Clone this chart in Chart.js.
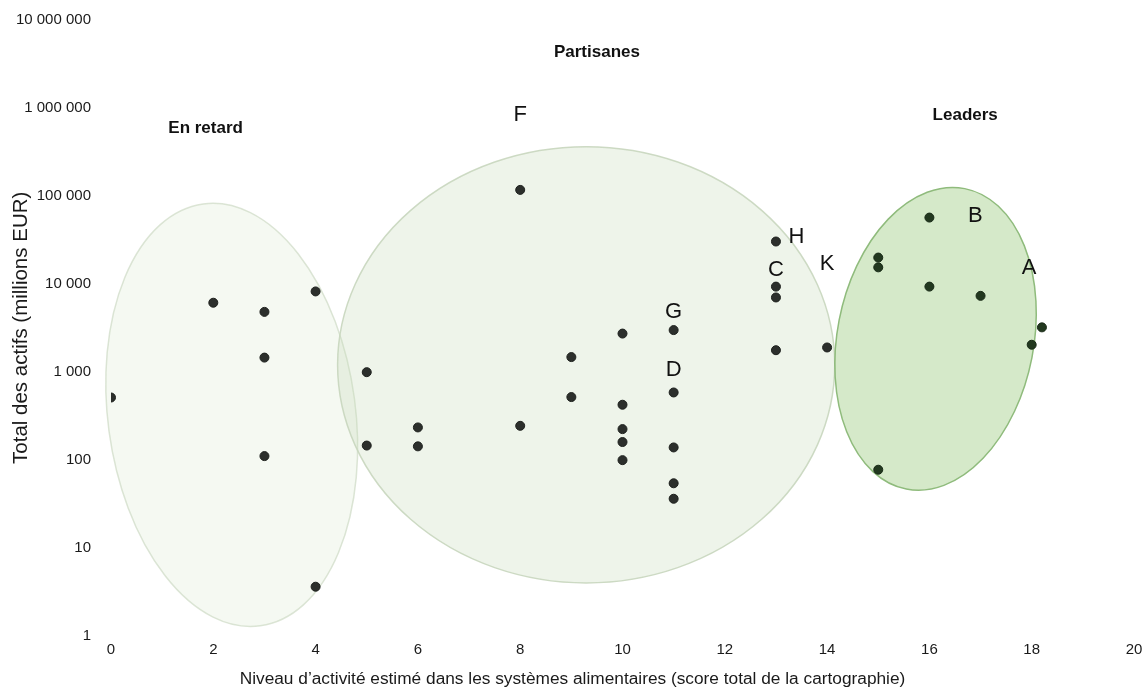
<!DOCTYPE html>
<html lang="fr">
<head>
<meta charset="utf-8">
<title>Actifs et activité dans les systèmes alimentaires</title>
<script src="https://cdn.jsdelivr.net/npm/chart.js@4.4.1/dist/chart.umd.min.js"></script>
<style>
    html, body { margin: 0; padding: 0; background: #fff; }
    #chartContainer { width: 1145px; height: 695px; }
</style>
</head>
<body>
<div id="chartContainer"><canvas id="myChart"></canvas></div>
<script>
// score de la cartographie (x) et total des actifs en millions EUR (y)
const retardScore = [0, 2, 3, 3, 3, 4, 4];
const retardActifs = [510, 6100, 4800, 1450, 110, 8200, 3.6];

const partisanesScore = [5, 5, 6, 6, 8, 8, 9, 9, 10, 10, 10, 10, 10, 11, 11, 11, 11, 11, 13, 13, 13, 13, 14];
const partisanesActifs = [990, 145, 233, 142, 117000, 243, 1470, 516, 2720, 422, 223, 159, 99, 2980, 582, 138, 54, 36, 30300, 9300, 7000, 1760, 1890];

const leadersScore = [15, 15, 15, 16, 16, 17, 18, 18.2];
const leadersActifs = [19900, 15400, 77, 56700, 9300, 7300, 2030, 3200];

const xTicks = [0, 2, 4, 6, 8, 10, 12, 14, 16, 18, 20];
const yTicks = [1, 10, 100, 1000, 10000, 100000, 1000000, 10000000];

// lettres posées à côté de certains points
const letterText = ['F', 'H', 'C', 'K', 'G', 'D', 'B', 'A'];
const letterScore = [8, 13.4, 13, 14, 11, 11, 16.9, 17.95];
const letterActifs = [830000, 34000, 14400, 16900, 4800, 1050, 59000, 15200];

// noms des groupes
const groupText = ['En retard', 'Partisanes', 'Leaders'];
const groupScore = [1.85, 9.5, 16.7];
const groupActifs = [580000, 4300000, 830000];

// zones (ellipses) : centre en unités de données, demi-axes en points de score / décades
const zones = [
    { score: 2.36, actifs: 324, halfScore: 2.42, halfDecades: 2.42, angle: -7.7,
      fill: 'rgba(200, 220, 185, 0.18)', stroke: 'rgba(205, 218, 196, 0.7)' },
    { score: 9.29, actifs: 1200, halfScore: 4.86, halfDecades: 2.48, angle: 0,
      fill: 'rgba(200, 220, 185, 0.3)', stroke: 'rgba(200, 214, 190, 0.9)' },
    { score: 16.12, actifs: 2370, halfScore: 1.92, halfDecades: 1.74, angle: 11,
      fill: 'rgba(150, 200, 120, 0.4)', stroke: '#8fbb7c' }
];

const FONT = "'Liberation Sans', Arial, sans-serif";

function toPoints(xs, ys) {
    return xs.map((x, i) => ({ x: x, y: ys[i] }));
}

function formatThousands(v) {
    return String(v).replace(/\B(?=(\d{3})+(?!\d))/g, ' ');
}

const zonePlugin = {
    id: 'zones',
    beforeDatasetsDraw(chart) {
        const { ctx, scales: { x, y } } = chart;
        zones.forEach(z => {
            const cx = x.getPixelForValue(z.score);
            const cy = y.getPixelForValue(z.actifs);
            const rx = Math.abs(x.getPixelForValue(z.score + z.halfScore) - cx);
            const ry = Math.abs(y.getPixelForValue(z.actifs * Math.pow(10, z.halfDecades)) - cy);
            ctx.save();
            ctx.beginPath();
            ctx.ellipse(cx, cy, rx, ry, z.angle * Math.PI / 180, 0, 2 * Math.PI);
            ctx.fillStyle = z.fill;
            ctx.fill();
            ctx.strokeStyle = z.stroke;
            ctx.lineWidth = 1.5;
            ctx.stroke();
            ctx.restore();
        });
    },
    afterDatasetsDraw(chart) {
        const { ctx, scales: { x, y } } = chart;
        ctx.save();
        ctx.textAlign = 'center';
        ctx.textBaseline = 'middle';
        ctx.fillStyle = '#111';
        ctx.font = '22px ' + FONT;
        letterText.forEach((t, i) => {
            ctx.fillText(t, x.getPixelForValue(letterScore[i]), y.getPixelForValue(letterActifs[i]));
        });
        ctx.font = 'bold 17px ' + FONT;
        groupText.forEach((t, i) => {
            ctx.fillText(t, x.getPixelForValue(groupScore[i]), y.getPixelForValue(groupActifs[i]));
        });
        ctx.restore();
    }
};

const pointStyle = {
    pointRadius: 4.5,
    pointHoverRadius: 5,
    borderWidth: 1,
    showLine: false
};

// invisible tick marks are used as spacing between labels and the plot
const hiddenGrid = (len) => ({
    display: true,
    drawOnChartArea: false,
    drawTicks: true,
    tickLength: len,
    color: 'rgba(0,0,0,0)'
});

const ctx = document.getElementById('myChart').getContext('2d');
const myChart = new Chart(ctx, {
    type: 'scatter',
    data: {
        datasets: [
            Object.assign({ label: 'En retard', data: toPoints(retardScore, retardActifs),
                backgroundColor: '#2c2f2c', borderColor: '#1d201d' }, pointStyle),
            Object.assign({ label: 'Partisanes', data: toPoints(partisanesScore, partisanesActifs),
                backgroundColor: '#2c2f2c', borderColor: '#1d201d' }, pointStyle),
            Object.assign({ label: 'Leaders', data: toPoints(leadersScore, leadersActifs),
                backgroundColor: '#22381f', borderColor: '#182a16' }, pointStyle)
        ]
    },
    options: {
        responsive: true,
        maintainAspectRatio: false,
        animation: false,
        layout: { padding: { top: 20, right: 11, left: 11, bottom: 0 } },
        plugins: {
            legend: { display: false },
            tooltip: { enabled: false },
            title: {
                display: true,
                position: 'bottom',
                text: 'Niveau d’activité estimé dans les systèmes alimentaires (score total de la cartographie)',
                color: '#1a1a1a',
                font: { family: FONT, size: 17.3, weight: 'normal' },
                padding: { top: 2, bottom: 5 }
            }
        },
        scales: {
            x: {
                type: 'linear',
                min: 0,
                max: 20,
                afterBuildTicks: scale => { scale.ticks = xTicks.map(v => ({ value: v })); },
                afterFit: scale => { scale.height = 31.6; },
                grid: hiddenGrid(5),
                border: { display: false },
                ticks: { color: '#1a1a1a', padding: 0, font: { family: FONT, size: 15 } }
            },
            y: {
                type: 'logarithmic',
                min: 1,
                max: 10000000,
                afterBuildTicks: scale => { scale.ticks = yTicks.map(v => ({ value: v })); },
                afterFit: scale => { scale.width = 100; },
                grid: hiddenGrid(20),
                border: { display: false },
                ticks: {
                    color: '#1a1a1a',
                    padding: 0,
                    font: { family: FONT, size: 15 },
                    callback: v => formatThousands(v)
                },
                title: {
                    display: true,
                    text: 'Total des actifs (millions EUR)',
                    color: '#1a1a1a',
                    font: { family: FONT, size: 20.5 },
                    padding: { top: -2, bottom: 0 }
                }
            }
        }
    },
    plugins: [zonePlugin]
});
</script>
</body>
</html>
